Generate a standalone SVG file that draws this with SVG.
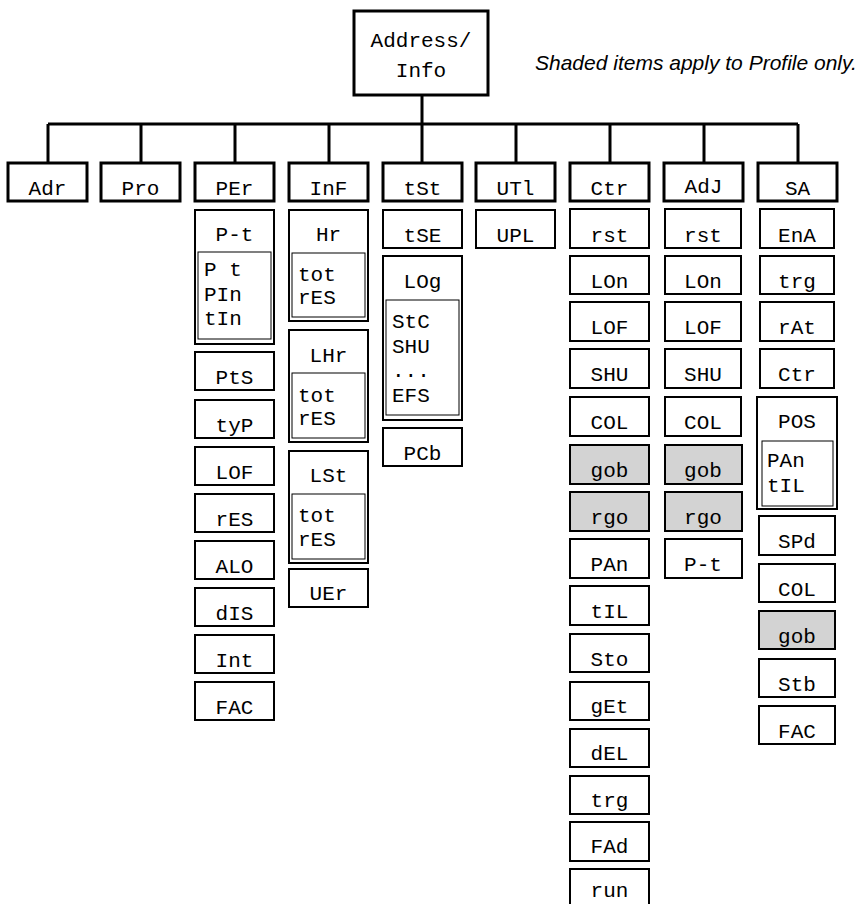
<svg xmlns="http://www.w3.org/2000/svg" width="860" height="904" viewBox="0 0 860 904">
<style>
rect{fill:#fff;stroke:#000;stroke-width:2}
rect.l1,rect.top{stroke-width:3}
rect.in{stroke-width:1;fill:none}
rect.g{fill:#d3d3d3}
text{font-family:"Liberation Mono","DejaVu Sans Mono",monospace;font-size:21px;fill:#000}
text.c{text-anchor:middle}
text.note{font-family:"Liberation Sans",Arial,sans-serif;font-style:italic;font-size:21px}
.conn{stroke:#000;stroke-width:3;fill:none}
</style>
<g id="connectors">
<path class="conn" d="M422 96V124M48 124H798M48 124V163M141 124V163M235 124V163M329 124V163M422 124V163M516 124V163M610 124V163M704 124V163M798 124V163"/>
</g>
<g id="root"><rect class="top" x="354" y="11" width="134" height="84"/><text class="c" x="421" y="47">Address/</text><text class="c" x="421" y="77">Info</text></g>
<text class="note" x="535" y="70">Shaded items apply to Profile only.</text>
<g id="Adr"><rect class="l1" x="8" y="163" width="79" height="38"/><text class="c" x="47.5" y="195">Adr</text></g>
<g id="Pro"><rect class="l1" x="101" y="163" width="79" height="38"/><text class="c" x="140.5" y="195">Pro</text></g>
<g id="PEr"><rect class="l1" x="195" y="163" width="79" height="38"/><text class="c" x="234.5" y="195">PEr</text></g>
<g id="InF"><rect class="l1" x="289" y="163" width="79" height="38"/><text class="c" x="328.5" y="195">InF</text></g>
<g id="tSt"><rect class="l1" x="383" y="163" width="79" height="38"/><text class="c" x="422.5" y="195">tSt</text></g>
<g id="UTl"><rect class="l1" x="476" y="163" width="79" height="38"/><text class="c" x="515.5" y="195">UTl</text></g>
<g id="Ctr"><rect class="l1" x="570" y="163" width="79" height="38"/><text class="c" x="609.5" y="195">Ctr</text></g>
<g id="AdJ"><rect class="l1" x="664" y="163" width="79" height="38"/><text class="c" x="703.5" y="193">AdJ</text></g>
<g id="SA"><rect class="l1" x="758" y="163" width="79" height="38"/><text class="c" x="797.5" y="195">SA</text></g>

<g id="PEr-items">
<g id="PEr-Pt"><rect x="195" y="210" width="79" height="134"/><rect class="in" x="198" y="252" width="73" height="87"/><text class="c" x="234.5" y="241">P-t</text><text x="204" y="276">P t</text><text x="204" y="301">PIn</text><text x="204" y="325">tIn</text></g>
<g id="PEr-PtS"><rect x="195" y="352" width="79" height="38"/><text class="c" x="234.5" y="384">PtS</text></g>
<g id="PEr-tyP"><rect x="195" y="400" width="79" height="38"/><text class="c" x="234.5" y="432">tyP</text></g>
<g id="PEr-LOF"><rect x="195" y="447" width="79" height="38"/><text class="c" x="234.5" y="479">LOF</text></g>
<g id="PEr-rES"><rect x="195" y="494" width="79" height="38"/><text class="c" x="234.5" y="526">rES</text></g>
<g id="PEr-ALO"><rect x="195" y="541" width="79" height="38"/><text class="c" x="234.5" y="573">ALO</text></g>
<g id="PEr-dIS"><rect x="195" y="588" width="79" height="38"/><text class="c" x="234.5" y="620">dIS</text></g>
<g id="PEr-Int"><rect x="195" y="635" width="79" height="38"/><text class="c" x="234.5" y="667">Int</text></g>
<g id="PEr-FAC"><rect x="195" y="682" width="79" height="38"/><text class="c" x="234.5" y="714">FAC</text></g>
</g>

<g id="InF-items">
<g id="InF-Hr"><rect x="289" y="210" width="79" height="111"/><rect class="in" x="292" y="253" width="73" height="64"/><text class="c" x="328.5" y="241">Hr</text><text x="298" y="281">tot</text><text x="298" y="304">rES</text></g>
<g id="InF-LHr"><rect x="289" y="330" width="79" height="112"/><rect class="in" x="292" y="373" width="73" height="65"/><text class="c" x="328.5" y="362">LHr</text><text x="298" y="402">tot</text><text x="298" y="425">rES</text></g>
<g id="InF-LSt"><rect x="289" y="451" width="79" height="112"/><rect class="in" x="292" y="494" width="73" height="65"/><text class="c" x="328.5" y="482">LSt</text><text x="298" y="522">tot</text><text x="298" y="546">rES</text></g>
<g id="InF-UEr"><rect x="289" y="569" width="79" height="38"/><text class="c" x="328.5" y="600">UEr</text></g>
</g>

<g id="tSt-items">
<g id="tSt-tSE"><rect x="383" y="210" width="79" height="38"/><text class="c" x="422.5" y="242">tSE</text></g>
<g id="tSt-LOg"><rect x="383" y="256" width="79" height="164"/><rect class="in" x="386" y="300" width="73" height="115"/><text class="c" x="422.5" y="288">LOg</text><text x="392" y="328">StC</text><text x="392" y="353">SHU</text><text x="392" y="377">...</text><text x="392" y="402">EFS</text></g>
<g id="tSt-PCb"><rect x="383" y="428" width="79" height="38"/><text class="c" x="422.5" y="460">PCb</text></g>
</g>

<g id="UTl-items">
<g id="UTl-UPL"><rect x="476" y="210" width="79" height="38"/><text class="c" x="515.5" y="242">UPL</text></g>
</g>

<g id="Ctr-items">
<g id="Ctr-rst"><rect x="570" y="209" width="79" height="39"/><text class="c" x="609.5" y="242">rst</text></g>
<g id="Ctr-LOn"><rect x="570" y="256" width="79" height="38"/><text class="c" x="609.5" y="288">LOn</text></g>
<g id="Ctr-LOF"><rect x="570" y="302" width="79" height="39"/><text class="c" x="609.5" y="334">LOF</text></g>
<g id="Ctr-SHU"><rect x="570" y="349" width="79" height="39"/><text class="c" x="609.5" y="381">SHU</text></g>
<g id="Ctr-COL"><rect x="570" y="397" width="79" height="39"/><text class="c" x="609.5" y="429">COL</text></g>
<g id="Ctr-gob"><rect class="g" x="570" y="445" width="79" height="39"/><text class="c" x="609.5" y="477">gob</text></g>
<g id="Ctr-rgo"><rect class="g" x="570" y="492" width="79" height="39"/><text class="c" x="609.5" y="524">rgo</text></g>
<g id="Ctr-PAn"><rect x="570" y="539" width="79" height="39"/><text class="c" x="609.5" y="571">PAn</text></g>
<g id="Ctr-tIL"><rect x="570" y="586" width="79" height="39"/><text class="c" x="609.5" y="618">tIL</text></g>
<g id="Ctr-Sto"><rect x="570" y="634" width="79" height="38"/><text class="c" x="609.5" y="666">Sto</text></g>
<g id="Ctr-gEt"><rect x="570" y="682" width="79" height="38"/><text class="c" x="609.5" y="713">gEt</text></g>
<g id="Ctr-dEL"><rect x="570" y="729" width="79" height="38"/><text class="c" x="609.5" y="760">dEL</text></g>
<g id="Ctr-trg"><rect x="570" y="776" width="79" height="38"/><text class="c" x="609.5" y="807">trg</text></g>
<g id="Ctr-FAd"><rect x="570" y="822" width="79" height="39"/><text class="c" x="609.5" y="853">FAd</text></g>
<g id="Ctr-run"><rect x="570" y="869" width="79" height="40"/><text class="c" x="609.5" y="897">run</text></g>
</g>

<g id="AdJ-items">
<g id="AdJ-rst"><rect x="665" y="209" width="76" height="39"/><text class="c" x="703" y="242">rst</text></g>
<g id="AdJ-LOn"><rect x="665" y="256" width="76" height="38"/><text class="c" x="703" y="288">LOn</text></g>
<g id="AdJ-LOF"><rect x="665" y="302" width="76" height="39"/><text class="c" x="703" y="334">LOF</text></g>
<g id="AdJ-SHU"><rect x="665" y="349" width="76" height="39"/><text class="c" x="703" y="381">SHU</text></g>
<g id="AdJ-COL"><rect x="665" y="397" width="76" height="39"/><text class="c" x="703" y="429">COL</text></g>
<g id="AdJ-gob"><rect class="g" x="665" y="445" width="77" height="39"/><text class="c" x="703" y="477">gob</text></g>
<g id="AdJ-rgo"><rect class="g" x="665" y="492" width="77" height="39"/><text class="c" x="703" y="524">rgo</text></g>
<g id="AdJ-Pt"><rect x="665" y="539" width="77" height="39"/><text class="c" x="703" y="571">P-t</text></g>
</g>

<g id="SA-items">
<g id="SA-EnA"><rect x="760" y="209" width="74" height="39"/><text class="c" x="797" y="242">EnA</text></g>
<g id="SA-trg"><rect x="760" y="256" width="74" height="38"/><text class="c" x="797" y="288">trg</text></g>
<g id="SA-rAt"><rect x="760" y="302" width="74" height="39"/><text class="c" x="797" y="334">rAt</text></g>
<g id="SA-Ctr"><rect x="760" y="349" width="74" height="39"/><text class="c" x="797" y="381">Ctr</text></g>
<g id="SA-POS"><rect x="757" y="397" width="80" height="112"/><rect class="in" x="762" y="441" width="71" height="65"/><text class="c" x="797" y="428">POS</text><text x="767" y="467">PAn</text><text x="767" y="492">tIL</text></g>
<g id="SA-SPd"><rect x="759" y="516" width="76" height="39"/><text class="c" x="797" y="548">SPd</text></g>
<g id="SA-COL"><rect x="759" y="564" width="76" height="38"/><text class="c" x="797" y="596">COL</text></g>
<g id="SA-gob"><rect class="g" x="759" y="611" width="76" height="38"/><text class="c" x="797" y="643">gob</text></g>
<g id="SA-Stb"><rect x="759" y="659" width="76" height="38"/><text class="c" x="797" y="691">Stb</text></g>
<g id="SA-FAC"><rect x="759" y="706" width="76" height="38"/><text class="c" x="797" y="738">FAC</text></g>
</g>
</svg>
